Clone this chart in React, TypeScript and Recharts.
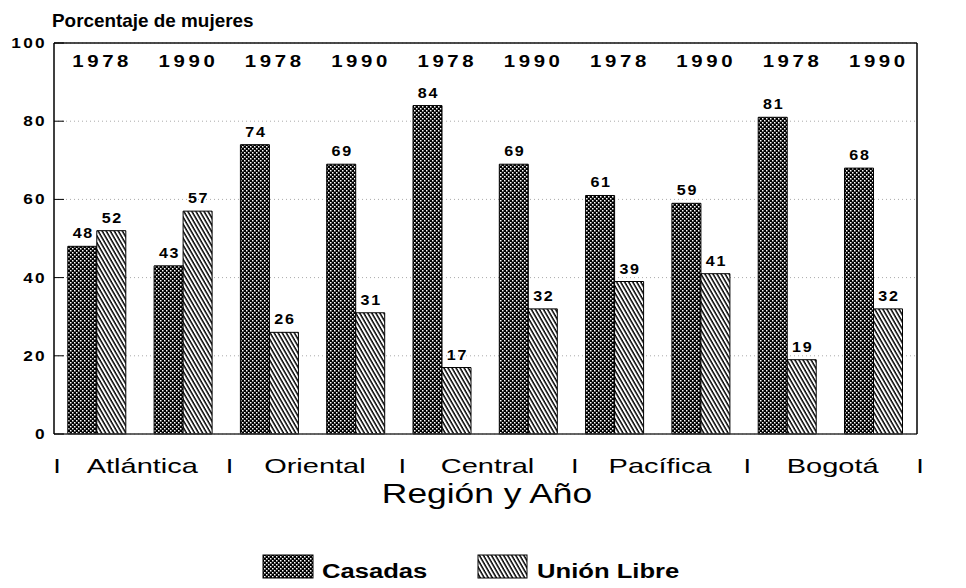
import React from 'react';
import {
  BarChart,
  Bar,
  XAxis,
  YAxis,
  CartesianGrid,
  LabelList,
} from 'recharts';

const years = ['1978', '1990', '1978', '1990', '1978', '1990', '1978', '1990', '1978', '1990'];
const regions = ['Atlántica', 'Oriental', 'Central', 'Pacífica', 'Bogotá'];
const casadas = [48, 43, 74, 69, 84, 69, 61, 59, 81, 68];
const unionLibre = [52, 57, 26, 31, 17, 32, 39, 41, 19, 32];
const yTicks = [0, 20, 40, 60, 80, 100];

const data = years.map((year, i) => ({
  key: `${regions[Math.floor(i / 2)]}-${year}`,
  year,
  casadas: casadas[i],
  union: unionLibre[i],
}));

const font = '"Liberation Sans", Arial, Helvetica, sans-serif';

// plot box: x 54..917, y 43..434
const PLOT_LEFT = 54;
const PLOT_RIGHT = 917;
const groupW = (PLOT_RIGHT - PLOT_LEFT) / years.length;

// the scanned original uses a wide grotesque, so stretch text horizontally
const WText = ({ x, y, sx = 1, ls = 0, anchor = 'start', size, bold, children }: any) => (
  <text
    transform={`translate(${x},${y}) scale(${sx},1)`}
    textAnchor={anchor}
    fontSize={size}
    fontWeight={bold ? 'bold' : 'normal'}
    letterSpacing={ls}
    fontFamily={font}
    fill="#000"
  >
    {children}
  </text>
);

const LeftTick = (props: any) => {
  const { y, payload } = props;
  return (
    <g>
      <line x1={PLOT_LEFT} x2={PLOT_LEFT + 10} y1={y} y2={y} stroke="#000" />
      <WText x={47} y={y + 5} sx={1.15} ls={2} anchor="end" size={15} bold>
        {payload.value}
      </WText>
    </g>
  );
};

const RightTick = (props: any) => {
  const { y, payload } = props;
  return (
    <g>
      <line x1={PLOT_RIGHT - 10} x2={PLOT_RIGHT} y1={y} y2={y} stroke="#000" />
      <WText x={928} y={y + 5} sx={1.15} ls={2} size={15} bold>
        {payload.value}
      </WText>
    </g>
  );
};

const YearTick = (props: any) => {
  const { x, index } = props;
  return (
    <WText x={x + 5} y={67} sx={1.2} ls={3} anchor="middle" size={17} bold>
      {years[index]}
    </WText>
  );
};

const RegionTick = (props: any) => {
  const { x, index } = props;
  const parts: React.ReactNode[] = [];
  if (index % 2 === 0) {
    parts.push(
      <WText key="l" x={x + groupW / 2 + 2} y={473} sx={1.38} anchor="middle" size={21}>
        {regions[index / 2]}
      </WText>
    );
    parts.push(
      <WText key="s" x={x - groupW / 2 + 3} y={473} sx={1.3} anchor="middle" size={21}>
        I
      </WText>
    );
  }
  if (index === years.length - 1) {
    parts.push(
      <WText key="e" x={x + groupW / 2 + 3} y={473} sx={1.3} anchor="middle" size={21}>
        I
      </WText>
    );
  }
  return <g>{parts}</g>;
};

const ValueLabel = (props: any) => {
  const { x, y, width, value } = props;
  return (
    <WText x={x + width / 2 + 1} y={y - 8} sx={1.15} ls={1.5} anchor="middle" size={14} bold>
      {value}
    </WText>
  );
};

const Patterns = ({ prefix }: { prefix: string }) => (
  <defs>
    <pattern id={`${prefix}dots`} width="4" height="4" patternUnits="userSpaceOnUse">
      <rect width="4" height="4" fill="#000" />
      <rect x="0" y="0" width="1.5" height="1.5" fill="#fff" />
      <rect x="2" y="2" width="1.5" height="1.5" fill="#fff" />
    </pattern>
    <pattern
      id={`${prefix}hatch`}
      width="3.5"
      height="10"
      patternUnits="userSpaceOnUse"
      patternTransform="rotate(-30)"
    >
      <rect width="3.5" height="10" fill="#fff" />
      <line x1="1" y1="0" x2="1" y2="10" stroke="#000" strokeWidth="1.5" />
    </pattern>
  </defs>
);

export default function App() {
  return (
    <div
      style={{
        position: 'absolute',
        left: 0,
        top: 0,
        width: 966,
        height: 588,
        background: '#fff',
        fontFamily: font,
      }}
    >
      <BarChart
        width={966}
        height={588}
        data={data}
        margin={{ top: 42, right: 9, bottom: 114, left: 14 }}
        barCategoryGap="16%"
        barGap={0}
      >
        <Patterns prefix="c-" />
        <CartesianGrid vertical={false} stroke="#aaa" strokeDasharray="1 3" />
        <XAxis
          xAxisId="top"
          orientation="top"
          dataKey="key"
          height={1}
          interval={0}
          tickLine={false}
          axisLine={{ stroke: '#111', strokeWidth: 1.5 }}
          tick={<YearTick />}
        />
        <XAxis
          dataKey="key"
          height={40}
          interval={0}
          tickLine={false}
          axisLine={{ stroke: '#333', strokeWidth: 1.5 }}
          tick={<RegionTick />}
        />
        <YAxis
          domain={[0, 100]}
          ticks={yTicks}
          width={40}
          tickLine={false}
          axisLine={{ stroke: '#000', strokeWidth: 1.5 }}
          tick={<LeftTick />}
        />
        <YAxis
          yAxisId="right"
          orientation="right"
          domain={[0, 100]}
          ticks={yTicks}
          width={40}
          tickLine={false}
          axisLine={{ stroke: '#000', strokeWidth: 1.5 }}
          tick={<RightTick />}
        />
        <Bar dataKey="casadas" fill="url(#c-dots)" stroke="#000" strokeWidth={1} isAnimationActive={false}>
          <LabelList dataKey="casadas" content={<ValueLabel />} />
        </Bar>
        <Bar dataKey="union" fill="url(#c-hatch)" stroke="#000" strokeWidth={1} isAnimationActive={false}>
          <LabelList dataKey="union" content={<ValueLabel />} />
        </Bar>
      </BarChart>

      <svg
        width={966}
        height={588}
        style={{ position: 'absolute', left: 0, top: 0, pointerEvents: 'none' }}
      >
        <Patterns prefix="l-" />
        <WText x={52} y={27} sx={1.05} size={18} bold>
          Porcentaje de mujeres
        </WText>
        <WText x={487} y={503} sx={1.31} anchor="middle" size={27}>
          Región y Año
        </WText>
        <rect x={263} y={555} width={50} height={23} fill="url(#l-dots)" stroke="#000" />
        <WText x={322} y={578} sx={1.22} size={21} bold>
          Casadas
        </WText>
        <rect x={478} y={555} width={49} height={23} fill="url(#l-hatch)" stroke="#000" />
        <WText x={537} y={578} sx={1.22} size={21} bold>
          Unión Libre
        </WText>
      </svg>
    </div>
  );
}
